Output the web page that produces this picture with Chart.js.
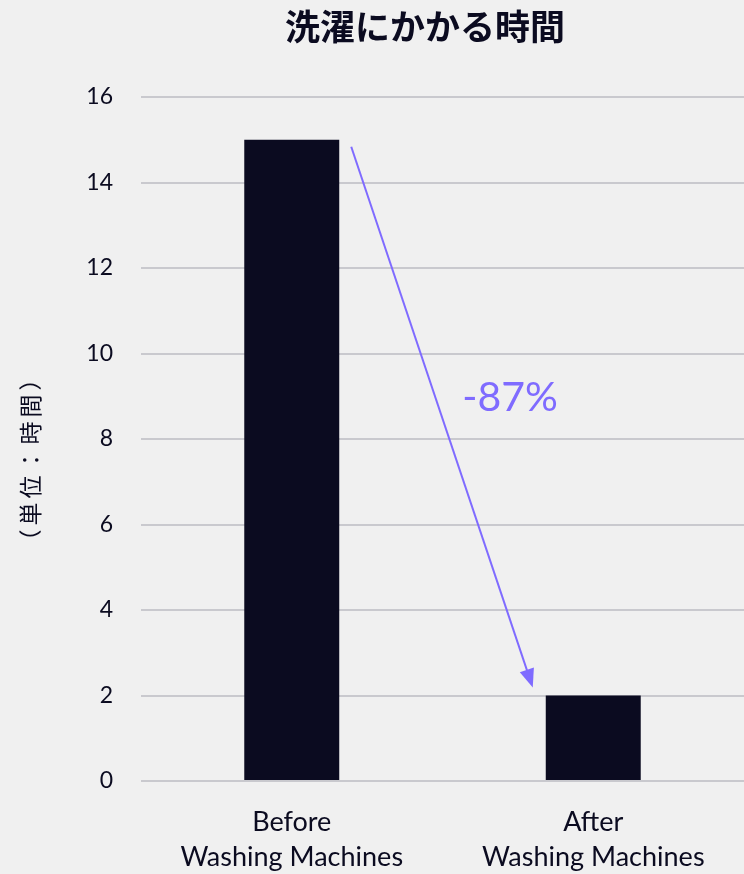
<!DOCTYPE html>
<html>
<head>
<meta charset="utf-8">
<script src="https://cdn.jsdelivr.net/npm/chart.js@4"></script>
<style>
  html, body { margin: 0; padding: 0; background: #f0f0f0; }
  #wrap { width: 744px; height: 874px; }
</style>
</head>
<body>
<div id="wrap"><canvas id="chart"></canvas></div>
<script>
const titleText = '洗濯にかかる時間';
const yTitle = '（単位：時間）';
const categories = [['Before', 'Washing Machines'], ['After', 'Washing Machines']];
const hours = [15, 2];
const changeLabel = '-87%';

const ink = '#0b0b20';
const accent = '#7f6bff';

// タイトル・縦軸名・矢印を描くプラグイン
const overlay = {
    id: 'overlay',
    afterDraw(chart) {
        const ctx = chart.ctx;
        const y = chart.scales.y;
        const bars = chart.getDatasetMeta(0).data;

        ctx.save();
        ctx.fillStyle = ink;
        ctx.font = 'bold 35px "Noto Sans CJK JP"';
        ctx.textAlign = 'center';
        ctx.textBaseline = 'middle';
        ctx.fillText(titleText, 425, 27);

        // 縦軸の単位
        ctx.save();
        ctx.translate(30, 460);
        ctx.rotate(-Math.PI / 2);
        ctx.font = '23px "Noto Sans CJK JP"';
        ctx.letterSpacing = '4px';
        ctx.fillText(yTitle, 2, 0);
        ctx.restore();

        // 矢印
        const x0 = bars[0].x + bars[0].width / 2 + 12;
        const y0 = y.getPixelForValue(hours[0]) + 7;
        const x1 = bars[1].x - bars[1].width / 2 - 13;
        const y1 = y.getPixelForValue(hours[1]) - 8;
        const ang = Math.atan2(y1 - y0, x1 - x0);
        const head = 20;
        ctx.strokeStyle = accent;
        ctx.fillStyle = accent;
        ctx.lineWidth = 2;
        ctx.beginPath();
        ctx.moveTo(x0, y0);
        ctx.lineTo(x1 - Math.cos(ang) * head * 0.8, y1 - Math.sin(ang) * head * 0.8);
        ctx.stroke();
        ctx.beginPath();
        ctx.moveTo(x1, y1);
        ctx.lineTo(x1 - Math.cos(ang - 0.38) * head, y1 - Math.sin(ang - 0.38) * head);
        ctx.lineTo(x1 - Math.cos(ang + 0.38) * head, y1 - Math.sin(ang + 0.38) * head);
        ctx.closePath();
        ctx.fill();

        ctx.font = '41px Lato';
        ctx.fillText(changeLabel, 510, 398);
        ctx.restore();
    }
};

new Chart(document.getElementById('chart'), {
    type: 'bar',
    data: {
        labels: categories,
        datasets: [{
            data: hours,
            backgroundColor: ink,
            categoryPercentage: 1,
            barPercentage: 0.315
        }]
    },
    options: {
        responsive: true,
        maintainAspectRatio: false,
        animation: false,
        layout: { padding: { top: 97, right: 0, bottom: 0, left: 0 } },
        plugins: {
            legend: { display: false },
            tooltip: { enabled: false }
        },
        scales: {
            x: {
                grid: { display: false },
                border: { display: false },
                ticks: {
                    color: ink,
                    font: { family: 'Lato', size: 27, lineHeight: 1.3 },
                    padding: 16,
                    maxRotation: 0
                },
                afterFit: s => { s.height = 93; }
            },
            y: {
                min: 0,
                max: 16,
                ticks: {
                    stepSize: 2,
                    color: ink,
                    font: { family: 'Lato', size: 23 },
                    padding: 28
                },
                grid: { color: '#c9c9ce', lineWidth: 2, drawTicks: false },
                border: { display: false },
                afterFit: s => { s.width = 141; }
            }
        }
    },
    plugins: [overlay]
});
</script>
</body>
</html>
